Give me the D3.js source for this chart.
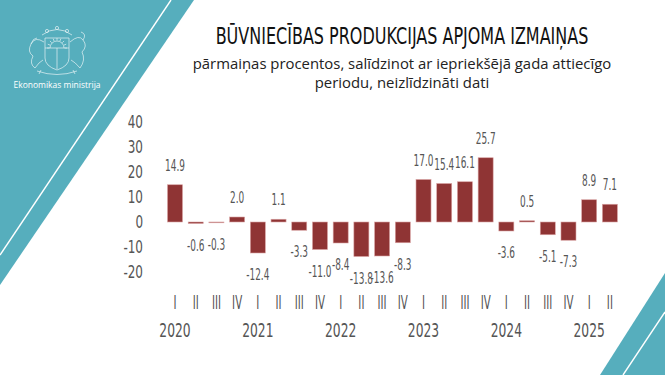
<!DOCTYPE html>
<html>
<head>
<meta charset="utf-8">
<script src="https://cdn.jsdelivr.net/npm/d3@7"></script>
<style>
  body { margin: 0; background: #fff; }
  svg { display: block; }
</style>
</head>
<body>
<div id="chart"></div>
<script>
// data
const years = ["2020", "2021", "2022", "2023", "2024", "2025"];
const quarters = ["I", "II", "III", "IV"];
const values = [14.9, -0.6, -0.3, 2.0, -12.4, 1.1, -3.3, -11.0, -8.4, -13.8, -13.6, -8.3,
                17.0, 15.4, 16.1, 25.7, -3.6, 0.5, -5.1, -7.3, 8.9, 7.1];
const yTicks = [-20, -10, 0, 10, 20, 30, 40];
const title = "BŪVNIECĪBAS PRODUKCIJAS APJOMA IZMAIŅAS";
const subtitle = ["pārmaiņas procentos, salīdzinot ar iepriekšējā gada attiecīgo",
                  "periodu, neizlīdzināti dati"];

const periods = [];
years.forEach(yr => quarters.forEach(q => periods.push({ year: yr, q: q })));
const data = values.map((v, i) => ({ key: periods[i].year + " " + periods[i].q, year: periods[i].year, q: periods[i].q, value: v }));

const width = 665, height = 375;
const teal = "#56aebd";
const barColor = "#8f3434";
const labelColor = "#555";
const narrow = "'Liberation Sans Narrow', 'DejaVu Sans Condensed', sans-serif";

// plain hyphen for negatives, like the reference
const locale = d3.formatLocale({ decimal: ".", thousands: "", grouping: [3], currency: ["", ""], minus: "-" });
const fmt1 = locale.format(".1f");
const fmt0 = locale.format("d");

const svg = d3.select("#chart").append("svg")
  .attr("width", width)
  .attr("height", height);

svg.append("rect")
  .attr("width", width)
  .attr("height", height)
  .attr("fill", "#fff");

// teal corner decorations
svg.append("path")
  .attr("d", "M0,0 L194,0 L0,285 Z")
  .attr("fill", teal);
svg.append("line")
  .attr("x1", 171).attr("y1", 0).attr("x2", 0).attr("y2", 255)
  .attr("stroke", "#fff").attr("stroke-width", 1.4);
svg.append("path")
  .attr("d", "M665,273 L665,375 L600,375 Z")
  .attr("fill", teal);
svg.append("line")
  .attr("x1", 665).attr("y1", 312).attr("x2", 623).attr("y2", 375)
  .attr("stroke", "#fff").attr("stroke-width", 1.4);

// simplified coat of arms
const logo = svg.append("g")
  .attr("transform", "translate(57,50)")
  .attr("fill", "none")
  .attr("stroke", "#fff")
  .attr("stroke-width", 0.7)
  .attr("opacity", 0.85);
logo.append("path").attr("d", "M-12,-12 L12,-12 L12,8 Q12,16 0,20 Q-12,16 -12,8 Z");
logo.append("path").attr("d", "M-12,-2 L12,-2 M0,-2 L0,19");
logo.append("path").attr("d", "M-7,-2 A7,7 0 0 1 7,-2");
d3.range(9).forEach(i => {
  const a = Math.PI + i * Math.PI / 8;
  logo.append("line")
    .attr("x1", Math.cos(a) * 7.5).attr("y1", -2 + Math.sin(a) * 7.5)
    .attr("x2", Math.cos(a) * 10).attr("y2", -2 + Math.sin(a) * 10);
});
logo.append("path").attr("d", "M-15,-15 Q0,-26 15,-15");
[-10, 0, 10].forEach(dx => logo.append("circle").attr("cx", dx).attr("cy", dx === 0 ? -22 : -19).attr("r", 1.6));
logo.append("path").attr("d", "M-13,-8 Q-22,-14 -26,-6 Q-30,2 -24,6 Q-28,14 -22,18 Q-18,12 -14,10 M-26,-6 Q-24,-12 -20,-12");
logo.append("path").attr("d", "M13,-8 Q22,-16 26,-10 Q31,-4 25,2 Q29,10 23,18 Q18,12 14,10 M26,-10 Q30,-16 24,-18");
logo.append("path").attr("d", "M-20,21 Q0,28 20,21 M-16,20 L-18,24 M16,20 L18,24");
svg.append("text")
  .attr("x", 57).attr("y", 88)
  .attr("text-anchor", "middle")
  .attr("fill", "#fff")
  .attr("font-family", "'Open Sans', sans-serif")
  .attr("font-size", 8.5)
  .text("Ekonomikas ministrija");

// title: squeeze horizontally to the reference width
const titleText = svg.append("text")
  .attr("text-anchor", "middle")
  .attr("fill", "#111")
  .attr("font-family", narrow)
  .attr("font-size", 23)
  .text(title);
const titleScale = 373 / titleText.node().getComputedTextLength();
titleText.attr("transform", `translate(402,44) scale(${titleScale},1)`);

const sub = svg.append("g")
  .attr("fill", "#222")
  .attr("font-family", "'Open Sans', sans-serif")
  .attr("text-anchor", "middle");
const sub1 = sub.append("text").attr("x", 402).attr("y", 69).attr("font-size", 15).text(subtitle[0]);
const fitSize = 15 * 419 / sub1.node().getComputedTextLength();
sub1.attr("font-size", fitSize);
sub.append("text").attr("x", 402).attr("y", 87.5).attr("font-size", fitSize).text(subtitle[1]);

// scales
const x = d3.scaleBand()
  .domain(data.map(d => d.key))
  .range([161.8, 623.1])
  .paddingInner(0.275)
  .paddingOuter(0.275);

const y = d3.scaleLinear()
  .domain([-20, 40])
  .range([272, 122]);

// y axis, labels only
const yAxis = svg.append("g")
  .attr("transform", "translate(143,0)")
  .call(d3.axisLeft(y).tickValues(yTicks).tickSize(0).tickPadding(0).tickFormat(fmt0));
yAxis.select(".domain").remove();
yAxis.selectAll("text")
  .attr("x", 0)
  .attr("fill", labelColor)
  .attr("font-family", narrow)
  .attr("font-size", 18)
  .attr("transform", "scale(0.74,1)");

// bars
svg.append("g")
  .selectAll("rect")
  .data(data)
  .enter().append("rect")
    .attr("x", d => x(d.key))
    .attr("width", x.bandwidth())
    .attr("y", d => y(Math.max(0, d.value)))
    .attr("height", d => Math.max(0.8, Math.abs(y(d.value) - y(0))))
    .attr("fill", barColor)
    .style("stroke", "#d9a3a3")
    .style("stroke-width", 0.6);

// value labels
svg.append("g")
  .selectAll("text")
  .data(data)
  .enter().append("text")
    .attr("transform", d => {
      const cx = x(d.key) + x.bandwidth() / 2;
      const ty = d.value >= 0 ? y(d.value) - 14 : y(d.value) + 27;
      return `translate(${cx},${ty}) scale(0.62,1)`;
    })
    .attr("text-anchor", "middle")
    .attr("fill", labelColor)
    .attr("font-family", narrow)
    .attr("font-size", 16)
    .text(d => fmt1(d.value));

// quarter and year labels
const xAxis = svg.append("g")
  .attr("transform", "translate(0,309)")
  .call(d3.axisBottom(x).tickSize(0).tickPadding(0).tickFormat(k => k.split(" ")[1]));
xAxis.select(".domain").remove();
xAxis.selectAll("text")
  .attr("y", 0)
  .attr("dy", 0)
  .attr("fill", labelColor)
  .attr("font-family", narrow)
  .attr("font-size", 19)
  .attr("transform", "scale(0.6,1)");

svg.append("g")
  .selectAll("text")
  .data(data.filter(d => d.q === "I"))
  .enter().append("text")
    .attr("transform", d => `translate(${x(d.key) + x.bandwidth() / 2},337) scale(0.72,1)`)
    .attr("text-anchor", "middle")
    .attr("fill", labelColor)
    .attr("font-family", narrow)
    .attr("font-size", 19)
    .text(d => d.year);
</script>
</body>
</html>
